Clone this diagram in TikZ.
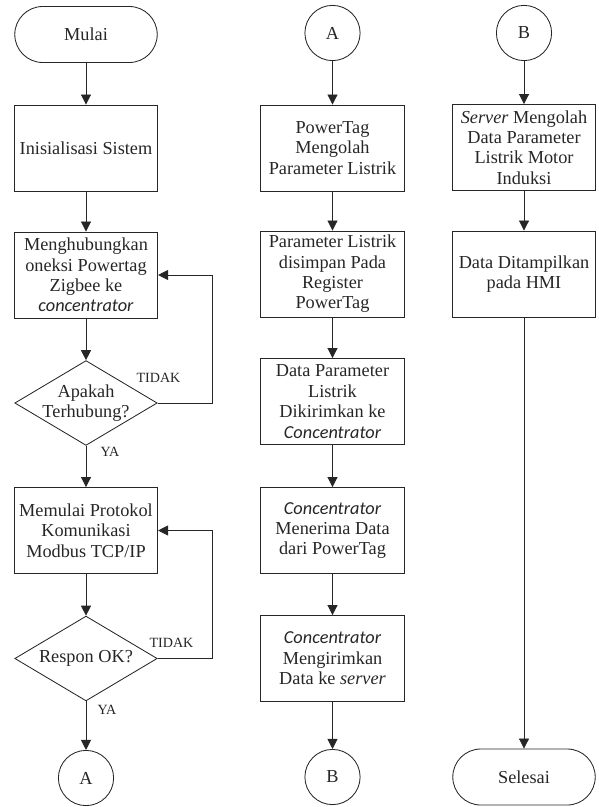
\documentclass[tikz,border=0pt]{standalone}
\usepackage{fontspec}
\setmainfont{Liberation Serif}
\newfontfamily\calfont{Carlito}
\usetikzlibrary{shapes.geometric,arrows.meta}
\begin{document}
\begin{tikzpicture}[x=0.025cm,y=-0.025cm,color=black!85,line width=0.6pt,>={Triangle[length=2.5mm,width=2.5mm]},font=\fontsize{13}{14.5}\selectfont]
\newcommand{\colA}{86}
\newcommand{\colB}{332.5}
\newcommand{\colC}{524}
\tikzstyle{proc}=[draw,align=center,minimum width=3.58cm,minimum height=2.15cm,inner sep=2pt]
\tikzstyle{term}=[draw,rounded corners=0.7cm,minimum width=3.56cm,minimum height=1.4cm]
\tikzstyle{cond}=[draw,diamond,aspect=1.7,align=center,minimum width=3.56cm,minimum height=2.12cm,inner sep=-4pt]
\tikzstyle{conn}=[draw,circle,minimum size=1.38cm,inner sep=0pt]
\tikzstyle{lbl}=[font=\fontsize{10}{12}\selectfont,inner sep=0pt]
\tikzstyle{edge}=[->]
\useasboundingbox (0,0) rectangle (598,807);
% kolom kiri
\node[term] (a0) at (\colA,34.5) {Mulai};
\node[proc] (a1) at (\colA,148) {Inisialisasi Sistem};
\node[proc] (a2) at (\colA,275) {Menghubungkan\\oneksi Powertag\\Zigbee ke\\{\calfont\itshape concentrator}};
\node[cond] (a3) at (\colA,403) {Apakah\\Terhubung?};
\node[proc] (a4) at (\colA,530.5) {Memulai Protokol\\Komunikasi\\Modbus TCP/IP};
\node[cond] (a5) at (\colA,658.5) {Respon OK?};
\node[conn] (a6) at (\colA,778) {A};
\node[lbl] (t1) at (158.5,378) {TIDAK};
\node[lbl] (y1) at (110,452) {YA};
\node[lbl] (t2) at (171.5,643) {TIDAK};
\node[lbl] (y2) at (107,710) {YA};
% kolom tengah
\node[conn] (b0) at (\colB,33) {A};
\node[proc] (b1) at (\colB,148) {PowerTag\\Mengolah\\Parameter Listrik};
\node[proc] (b2) at (\colB,274) {Parameter Listrik\\disimpan Pada\\Register\\PowerTag};
\node[proc] (b3) at (\colB,401.5) {Data Parameter\\Listrik\\Dikirimkan ke\\{\calfont\itshape Concentrator}};
\node[proc] (b4) at (\colB,530.5) {{\calfont\itshape Concentrator}\\Menerima Data\\dari PowerTag};
\node[proc] (b5) at (\colB,658.5) {{\calfont\itshape Concentrator}\\Mengirimkan\\Data ke \textit{server}};
\node[conn] (b6) at (\colB,777) {B};
% kolom kanan
\node[conn] (c0) at (\colC,33) {B};
\node[proc] (c1) at (\colC,147.5) {\textit{Server} Mengolah\\Data Parameter\\Listrik Motor\\Induksi};
\node[proc] (c2) at (\colC,274) {Data Ditampilkan\\pada HMI};
\node[term] (c3) at (\colC,777) {Selesai};
\draw[edge] (a0) edge (a1);
\draw[edge] (a1) edge (a2);
\draw[edge] (a2) edge (a3);
\draw[edge] (a3) edge (a4);
\draw[edge] (a4) edge (a5);
\draw[edge] (a5) edge (a6);
\draw[edge] (a3.east) -- ++(55,0) |- (a2.east);
\draw[edge] (a5.east) -- ++(55,0) |- (a4.east);
\draw[edge] (b0) edge (b1);
\draw[edge] (b1) edge (b2);
\draw[edge] (b2) edge (b3);
\draw[edge] (b3) edge (b4);
\draw[edge] (b4) edge (b5);
\draw[edge] (b5) edge (b6);
\draw[edge] (c0) edge (c1);
\draw[edge] (c1) edge (c2);
\draw[edge] (c2) edge (c3);
\end{tikzpicture}
\end{document}
